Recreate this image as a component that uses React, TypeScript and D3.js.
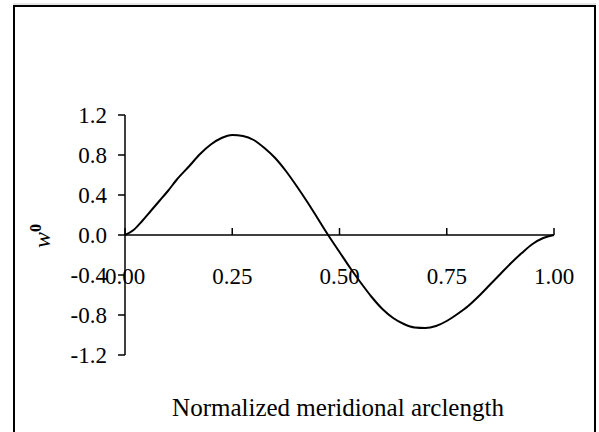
import React from "react";
import * as d3 from "d3";

const xs = [0, 0.02, 0.04, 0.06, 0.08, 0.1, 0.12, 0.15, 0.175, 0.2, 0.225, 0.25, 0.275, 0.3, 0.325, 0.35, 0.375, 0.4, 0.425, 0.45, 0.475, 0.5, 0.525, 0.55, 0.575, 0.6, 0.625, 0.65, 0.675, 0.7, 0.725, 0.75, 0.775, 0.8, 0.825, 0.85, 0.875, 0.9, 0.925, 0.95, 0.975, 1.0];
const ws = [0, 0.05, 0.14, 0.24, 0.34, 0.44, 0.55, 0.69, 0.81, 0.905, 0.97, 1.0, 0.99, 0.95, 0.87, 0.77, 0.64, 0.49, 0.33, 0.16, -0.01, -0.17, -0.33, -0.48, -0.62, -0.74, -0.83, -0.89, -0.925, -0.93, -0.91, -0.86, -0.79, -0.71, -0.61, -0.5, -0.39, -0.28, -0.18, -0.09, -0.03, 0];
const xTicks = [0, 0.25, 0.5, 0.75, 1.0];
const yTicks = [-1.2, -0.8, -0.4, 0.0, 0.4, 0.8, 1.2];
const xTitle = "Normalized meridional arclength";

export default function App() {
  const x = d3.scaleLinear().domain([0, 1]).range([125, 554]);
  const y = d3.scaleLinear().domain([-1.2, 1.2]).range([355, 115]);
  const line = d3.line<number>().x((_, i) => x(xs[i])).y((d) => y(d)).curve(d3.curveMonotoneX);
  const font = "'Liberation Serif', 'Times New Roman', serif";
  return (
    <svg width={599} height={432} style={{ position: "absolute", left: 0, top: 0, background: "#fff" }}>
      <line x1={13} y1={4} x2={596} y2={4} stroke="#ccc" strokeWidth={1} />
      <rect x={14} y={6} width={581} height={440} fill="none" stroke="#000" strokeWidth={2} />
      <line x1={x(0)} y1={y(1.2)} x2={x(0)} y2={y(-1.2)} stroke="#000" strokeWidth={1.5} />
      {yTicks.map((t) => (
        <g key={t}>
          <line x1={x(0) - 7} x2={x(0)} y1={y(t)} y2={y(t)} stroke="#000" strokeWidth={1.5} />
          <text x={107} y={y(t)} dy="0.35em" textAnchor="end" fontFamily={font} fontSize={23}>{t.toFixed(1)}</text>
        </g>
      ))}
      <line x1={x(0)} y1={y(0)} x2={x(1)} y2={y(0)} stroke="#000" strokeWidth={1.5} />
      {xTicks.map((t) => (
        <g key={t}>
          <line x1={x(t)} x2={x(t)} y1={y(0)} y2={y(0) - 7} stroke="#000" strokeWidth={1.5} />
          <text x={x(t)} y={284} textAnchor="middle" fontFamily={font} fontSize={23}>{t.toFixed(2)}</text>
        </g>
      ))}
      <path d={line(ws) || ""} fill="none" stroke="#000" strokeWidth={2} />
      <text x={338} y={416} textAnchor="middle" fontFamily={font} fontSize={25}>{xTitle}</text>
      <text transform="translate(50,236) rotate(-90)" fontFamily={font} fontSize={24} textAnchor="middle">
        <tspan fontStyle="italic">w</tspan>
        <tspan fontWeight="bold" fontSize={16} dy={-9}>0</tspan>
      </text>
    </svg>
  );
}
